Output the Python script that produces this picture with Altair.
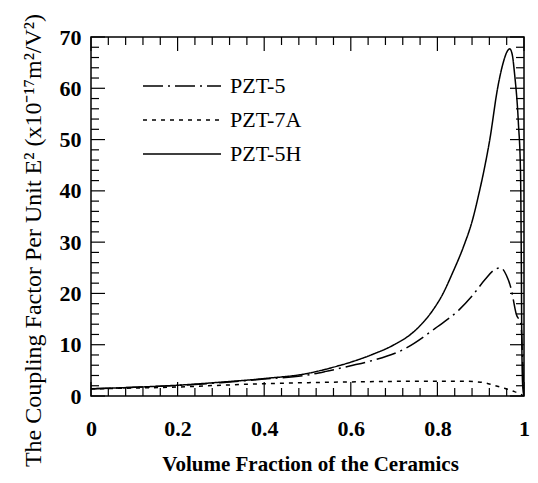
import altair as alt
import pandas as pd

series_names = ["PZT-5", "PZT-7A", "PZT-5H"]

# PZT-5 (dash-dot)
pzt5_x = [0.0, 0.1, 0.2, 0.3, 0.4, 0.5, 0.54, 0.6, 0.64, 0.72, 0.8, 0.85, 0.88, 0.91, 0.93, 0.946, 0.959, 0.97, 0.982, 0.993, 0.998, 1.0]
pzt5_y = [1.4, 1.7, 2.05, 2.6, 3.3, 4.1, 4.75, 5.9, 6.7, 9.0, 13.5, 16.8, 19.5, 22.7, 24.5, 25.0, 23.6, 21.0, 16.0, 14.0, 4.0, 0.0]

# PZT-7A (dotted)
pzt7a_x = [0.0, 0.1, 0.2, 0.3, 0.4, 0.5, 0.6, 0.7, 0.8, 0.85, 0.9, 0.93, 0.955, 0.978, 1.0]
pzt7a_y = [1.4, 1.55, 1.75, 2.1, 2.4, 2.6, 2.75, 2.85, 2.9, 2.9, 2.7, 2.1, 1.5, 0.85, 0.0]

# PZT-5H (solid)
pzt5h_x = [0.0, 0.1, 0.2, 0.3, 0.4, 0.5, 0.55, 0.6, 0.65, 0.7, 0.745, 0.79, 0.81, 0.835, 0.862, 0.88, 0.896, 0.91, 0.921, 0.939, 0.952, 0.96, 0.967, 0.973, 0.978, 0.987, 0.992, 0.9935, 0.995, 0.997, 1.0]
pzt5h_y = [1.4, 1.7, 2.1, 2.7, 3.4, 4.4, 5.4, 6.6, 8.1, 10.0, 12.5, 16.8, 19.5, 24.0, 29.5, 34.0, 39.5, 45.0, 50.0, 60.0, 65.0, 67.0, 67.7, 66.5, 63.0, 53.3, 43.5, 30.0, 10.0, 2.0, 0.0]

x_major = [0, 0.2, 0.4, 0.6, 0.8, 1]
x_minor = [0.04, 0.08, 0.12, 0.16, 0.24, 0.28, 0.32, 0.36, 0.44, 0.48, 0.52, 0.56,
           0.64, 0.68, 0.72, 0.76, 0.84, 0.88, 0.92, 0.96]
y_major = [0, 10, 20, 30, 40, 50, 60, 70]
y_minor = [2, 4, 6, 8, 12, 14, 16, 18, 22, 24, 26, 28, 32, 34, 36, 38, 42, 44, 46, 48,
           52, 54, 56, 58, 62, 64, 66, 68]

W, H = 433, 359
MAJ, MIN = 14, 8
FONT = "Liberation Serif"

rows = []
for name, xs, ys in [("PZT-5", pzt5_x, pzt5_y), ("PZT-7A", pzt7a_x, pzt7a_y), ("PZT-5H", pzt5h_x, pzt5h_y)]:
    for i, (a, b) in enumerate(zip(xs, ys)):
        rows.append({"series": name, "x": a, "y": b, "i": i})
df = pd.DataFrame(rows)

xscale = alt.Scale(domain=[0, 1], nice=False, zero=False)
yscale = alt.Scale(domain=[0, 70], nice=False, zero=False)

ax_x = alt.Axis(
    values=x_major, format="~g", title="Volume Fraction of the Ceramics", ticks=False, domain=False, grid=False,
    labelFont=FONT, labelFontSize=22, labelFontWeight="bold", labelColor="black",
    labelPadding=22, labelFlush=False, labelOverlap=False,
    titleFont=FONT, titleFontSize=21, titleFontWeight="bold", titleColor="black",
    titleX=219, titleY=74, titleBaseline="alphabetic", titleAlign="center")
ax_y = alt.Axis(
    values=y_major, title="The Coupling Factor Per Unit E\u00b2  (x10\u207b\u00b9\u2077m\u00b2/V\u00b2)",
    ticks=False, domain=False, grid=False,
    labelFont=FONT, labelFontSize=22, labelFontWeight="bold", labelColor="black",
    labelPadding=10, labelOverlap=False, labelFlush=False,
    titleFont=FONT, titleFontSize=24, titleFontWeight="normal", titleColor="black",
    titleAngle=-90, titleX=-58, titleY=203, titleAlign="center", titleBaseline="middle")

lines = alt.Chart(df).mark_line(color="black", strokeWidth=1.5, interpolate="monotone", clip=True).encode(
    x=alt.X("x:Q", scale=xscale, axis=ax_x),
    y=alt.Y("y:Q", scale=yscale, axis=ax_y),
    order="i:Q",
    strokeDash=alt.StrokeDash("series:N", scale=alt.Scale(domain=series_names, range=[[20, 5, 2, 5], [4, 5], [1, 0]]),
                              legend=alt.Legend(title=None, orient="none", legendX=77, legendY=35, padding=0,
                                                symbolType="M-3,0H3", symbolSize=676, symbolStrokeWidth=1.5,
                                                symbolStrokeColor="black", labelFont=FONT, labelFontSize=22,
                                                labelColor="black", labelOffset=34, rowPadding=9)),
)

def xticks(vals, length, top):
    y1, y2 = (0, length) if top else (H, H - length)
    return alt.Chart(pd.DataFrame({"x": vals})).mark_rule(color="black", strokeWidth=1.2).encode(
        x=alt.X("x:Q", scale=xscale, axis=ax_x), y=alt.value(y1), y2=alt.value(y2))

def yticks(vals, length, right):
    x1, x2 = (W, W - length) if right else (0, length)
    return alt.Chart(pd.DataFrame({"y": vals})).mark_rule(color="black", strokeWidth=1.2).encode(
        y=alt.Y("y:Q", scale=yscale, axis=ax_y), x=alt.value(x1), x2=alt.value(x2))

chart = alt.layer(
    lines,
    xticks(x_major, MAJ, False), xticks(x_minor, MIN, False),
    xticks(x_major, MAJ, True), xticks(x_minor, MIN, True),
    yticks(y_major, MAJ, False), yticks(y_minor, MIN, False),
    yticks(y_major, MAJ, True), yticks(y_minor, MIN, True),
).properties(
    width=W, height=H,
    autosize=alt.AutoSizeParams(type="none"),
    padding={"left": 83, "top": 29, "right": 6, "bottom": 79},
    background="white",
).configure_view(stroke="black", strokeWidth=1.5)

chart.save("out.html", embed_options={"renderer": "svg", "actions": False})
